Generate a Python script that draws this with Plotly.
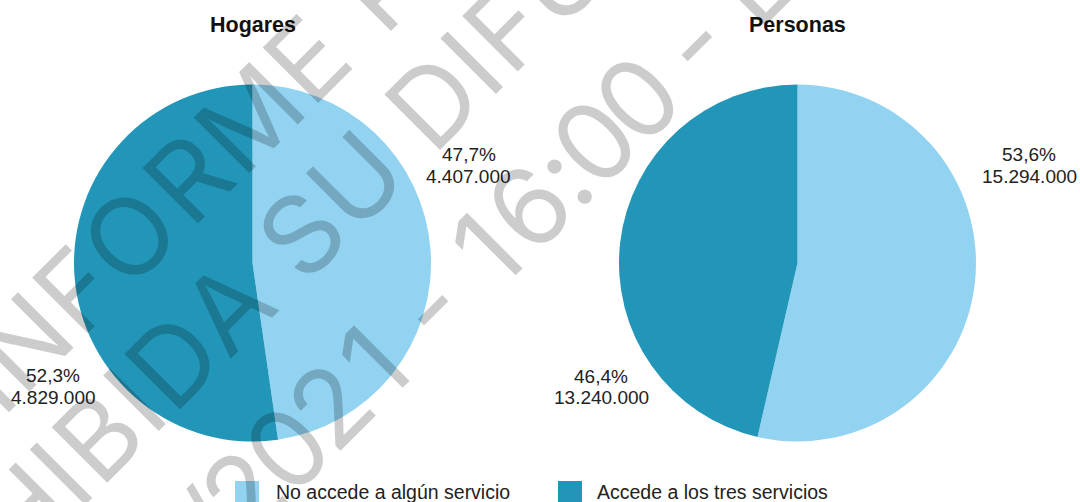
import plotly.graph_objects as go

# ---- data -------------------------------------------------------------
categories = ["No accede a algún servicio", "Accede a los tres servicios"]
hogares = [4407000, 4829000]
personas = [15294000, 13240000]
panel_titles = ["Hogares", "Personas"]
colors = ["#91D3F0", "#2296B8"]

watermark_lines = [
    "INFORME PRELIMINAR",
    "PROHIBIDA SU DIFUSIÓN",
    "30/09/2021 - 16:00 - EMBARGO",
]

W, H = 1080, 502
FONT = "Liberation Sans, Arial, Helvetica, sans-serif"
WM_FONT = "Inter, Liberation Sans, Arial, sans-serif"


def px(x):
    return x / W


def py(y):
    return 1 - y / H


def fmt_pct(v, total):
    return f"{100 * v / total:.1f}".replace(".", ",") + "%"


def fmt_num(v):
    return f"{v:,}".replace(",", ".")


fig = go.Figure()

# pie geometry (pixel centre / radius)
pies = [
    dict(name=panel_titles[0], values=hogares, cx=252.5, cy=263, r=178.5),
    dict(name=panel_titles[1], values=personas, cx=797.5, cy=263, r=178.5),
]

for p in pies:
    fig.add_trace(go.Pie(
        labels=categories,
        values=p["values"],
        name=p["name"],
        sort=False,
        direction="clockwise",
        rotation=0,
        marker=dict(colors=colors, line=dict(width=0)),
        textinfo="none",
        hoverinfo="label+value+percent",
        showlegend=False,
        domain=dict(
            x=[px(p["cx"] - p["r"]), px(p["cx"] + p["r"])],
            y=[py(p["cy"] + p["r"]), py(p["cy"] - p["r"])],
        ),
    ))

annotations = []
shapes = []

# panel titles
for p in pies:
    annotations.append(dict(
        text=f"<b>{p['name']}</b>", x=px(p["cx"]), y=py(25),
        xref="paper", yref="paper", showarrow=False,
        xanchor="center", yanchor="middle",
        font=dict(family=FONT, size=21.5, color="#111111"),
    ))

# slice labels: (pie index, slice index, x, y of first line)
label_pos = [
    (0, 0, 468.5, 154.5),
    (0, 1, 53, 375.5),
    (1, 0, 1029, 154.5),
    (1, 1, 601, 376),
]
for pi, si, lx, ly in label_pos:
    vals = pies[pi]["values"]
    total = sum(vals)
    lines = [fmt_pct(vals[si], total), fmt_num(vals[si])]
    for k, t in enumerate(lines):
        annotations.append(dict(
            text=t, x=px(lx), y=py(ly + 21.5 * k),
            xref="paper", yref="paper", showarrow=False,
            xanchor="center", yanchor="middle",
            font=dict(family=FONT, size=19, color="#222222"),
        ))

# legend (swatch + label)
legend_items = [(235, 274), (558, 595)]
for (sx, tx), cat, col in zip(legend_items, categories, colors):
    shapes.append(dict(
        type="rect", xref="paper", yref="paper",
        x0=px(sx), x1=px(sx + 24), y0=py(505), y1=py(481),
        fillcolor=col, line=dict(width=0), layer="above",
    ))
    annotations.append(dict(
        text=cat, x=px(tx), y=py(491.5),
        xref="paper", yref="paper", showarrow=False,
        xanchor="left", yanchor="middle",
        font=dict(family=FONT, size=19.5, color="#222222"),
    ))

# diagonal watermark, laid out glyph by glyph along a 45deg line
ADV = {
    " ": 278, "/": 278, "-": 333, ":": 278, "Ó": 778,
    "A": 667, "B": 667, "C": 722, "D": 722, "E": 667, "F": 611, "G": 778,
    "H": 722, "I": 278, "J": 500, "K": 667, "L": 556, "M": 833, "N": 722,
    "O": 778, "P": 667, "Q": 778, "R": 722, "S": 667, "T": 611, "U": 722,
    "V": 667, "W": 944, "X": 667, "Y": 667, "Z": 611,
}
for d in "0123456789":
    ADV[d] = 556

WM_SIZE = 108      # glyph size
WM_PITCH = 110     # advance scale along the line
UX, UY = 0.70711, -0.70711   # reading direction in pixel space


def char_offsets(text):
    out, acc = [], 0.0
    for c in text:
        w = ADV[c] / 1000 * WM_PITCH
        out.append(acc + w / 2)
        acc += w
    return out


# (char i, char j, pixel point midway between their centres)
wm_anchor = [
    (2, 6, 191.3, 174.3),     # O ... E of INFORME
    (8, 13, 330.0, 204.0),    # D of BIDA ... D of DIF
    (15, 15, 561.2, 173.8),   # ':' of 16:00
]
for text, (i, j, ax, ay) in zip(watermark_lines, wm_anchor):
    offs = char_offsets(text)
    ref = (offs[i] + offs[j]) / 2
    for c, o in zip(text, offs):
        if c == " ":
            continue
        d = o - ref
        gx, gy = ax + d * UX, ay + d * UY
        if gx < -80 or gx > W + 80 or gy < -80 or gy > H + 80:
            continue
        annotations.append(dict(
            text=c, x=px(gx), y=py(gy),
            xref="paper", yref="paper", showarrow=False,
            xanchor="center", yanchor="middle", textangle=-45,
            font=dict(family=WM_FONT, size=WM_SIZE, weight=400,
                      color="rgba(0,0,0,0.2)"),
        ))

fig.update_layout(
    width=W, height=H,
    margin=dict(l=0, r=0, t=0, b=0),
    paper_bgcolor="white",
    plot_bgcolor="white",
    annotations=annotations,
    shapes=shapes,
    showlegend=False,
)

fig.write_html("out.html", config={"displayModeBar": False})
